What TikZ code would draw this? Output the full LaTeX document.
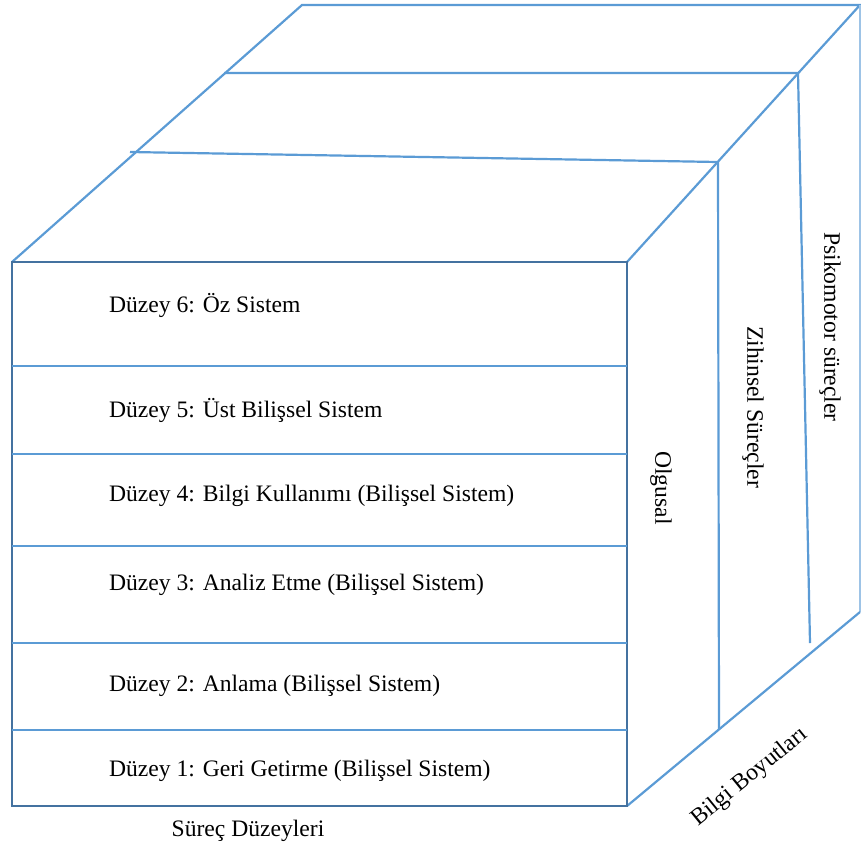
\documentclass[tikz,border=0pt]{standalone}
\usepackage{fontspec}
\setmainfont{Liberation Serif}
\definecolor{edgeblue}{RGB}{91,155,213}
\definecolor{faceblue}{RGB}{68,114,160}

\begin{document}
\begin{tikzpicture}[
    x=1pt, y=-1pt,
    line width=2.2pt,
    color=edgeblue,
    every node/.style={text=black, font=\fontsize{23.6}{27}\selectfont},
    level/.style={anchor=west, inner sep=0pt},
    side/.style={rotate=-90, inner sep=0pt}
]
    \useasboundingbox (0,0) rectangle (861,854);

    % --- Corners ---
    \coordinate (FTL) at (12,262);   % front top left
    \coordinate (FTR) at (627,262);  % front top right
    \coordinate (FBL) at (12,806);   % front bottom left
    \coordinate (FBR) at (627,806);  % front bottom right
    \coordinate (BTL) at (302,5);    % back top left
    \coordinate (BTR) at (860,5);    % back top right
    \coordinate (BBR) at (860,612);  % back bottom right

    % Top face slices
    \coordinate (A1) at (130,152);
    \coordinate (A2) at (718,162);
    \coordinate (B1) at (224,73);
    \coordinate (B2) at (798,73);

    % Bottom ends of the side slices
    \coordinate (A3) at (719,729);
    \coordinate (B3) at (810,643);

    % --- Top and side faces ---
    \draw (FTL) -- (BTL) -- (BTR) -- (FTR);
    \draw (A1) -- (A2) -- (A3);
    \draw (B1) -- (B2) -- (B3);
    \draw[line width=1.4pt, edgeblue!60] (BTR) -- (BBR);
    \draw (FBR) -- (BBR);

    % --- Front face ---
    \draw[faceblue] (FTL) rectangle (FBR);
    \foreach \y in {366,454,546,643,730}
        \draw (12,\y) -- (627,\y);

    % Level labels
    \node[level] (d6) at (108,305) {Düzey 6: Öz Sistem};
    \node[level] (d5) at (108,410) {Düzey 5: Üst Bilişsel Sistem};
    \node[level] (d4) at (108,496) {Düzey 4: Bilgi Kullanımı (Bilişsel Sistem)};
    \node[level] (d3) at (108,585) {Düzey 3: Analiz Etme (Bilişsel Sistem)};
    \node[level] (d2) at (108,686) {Düzey 2: Anlama (Bilişsel Sistem)};
    \node[level] (d1) at (108,771) {Düzey 1: Geri Getirme (Bilişsel Sistem)};

    % Axis labels
    \node (proc) at (248,831) {Süreç Düzeyleri};
    \node[side] (olg) at (661,488) {Olgusal};
    \node[side] (zih) at (753,407) {Zihinsel Süreçler};
    \node[side] (psi) at (830,327) {Psikomotor süreçler};
    \node[rotate=39.2] (bilgi) at (750,777) {Bilgi Boyutları};

\end{tikzpicture}
\end{document}
